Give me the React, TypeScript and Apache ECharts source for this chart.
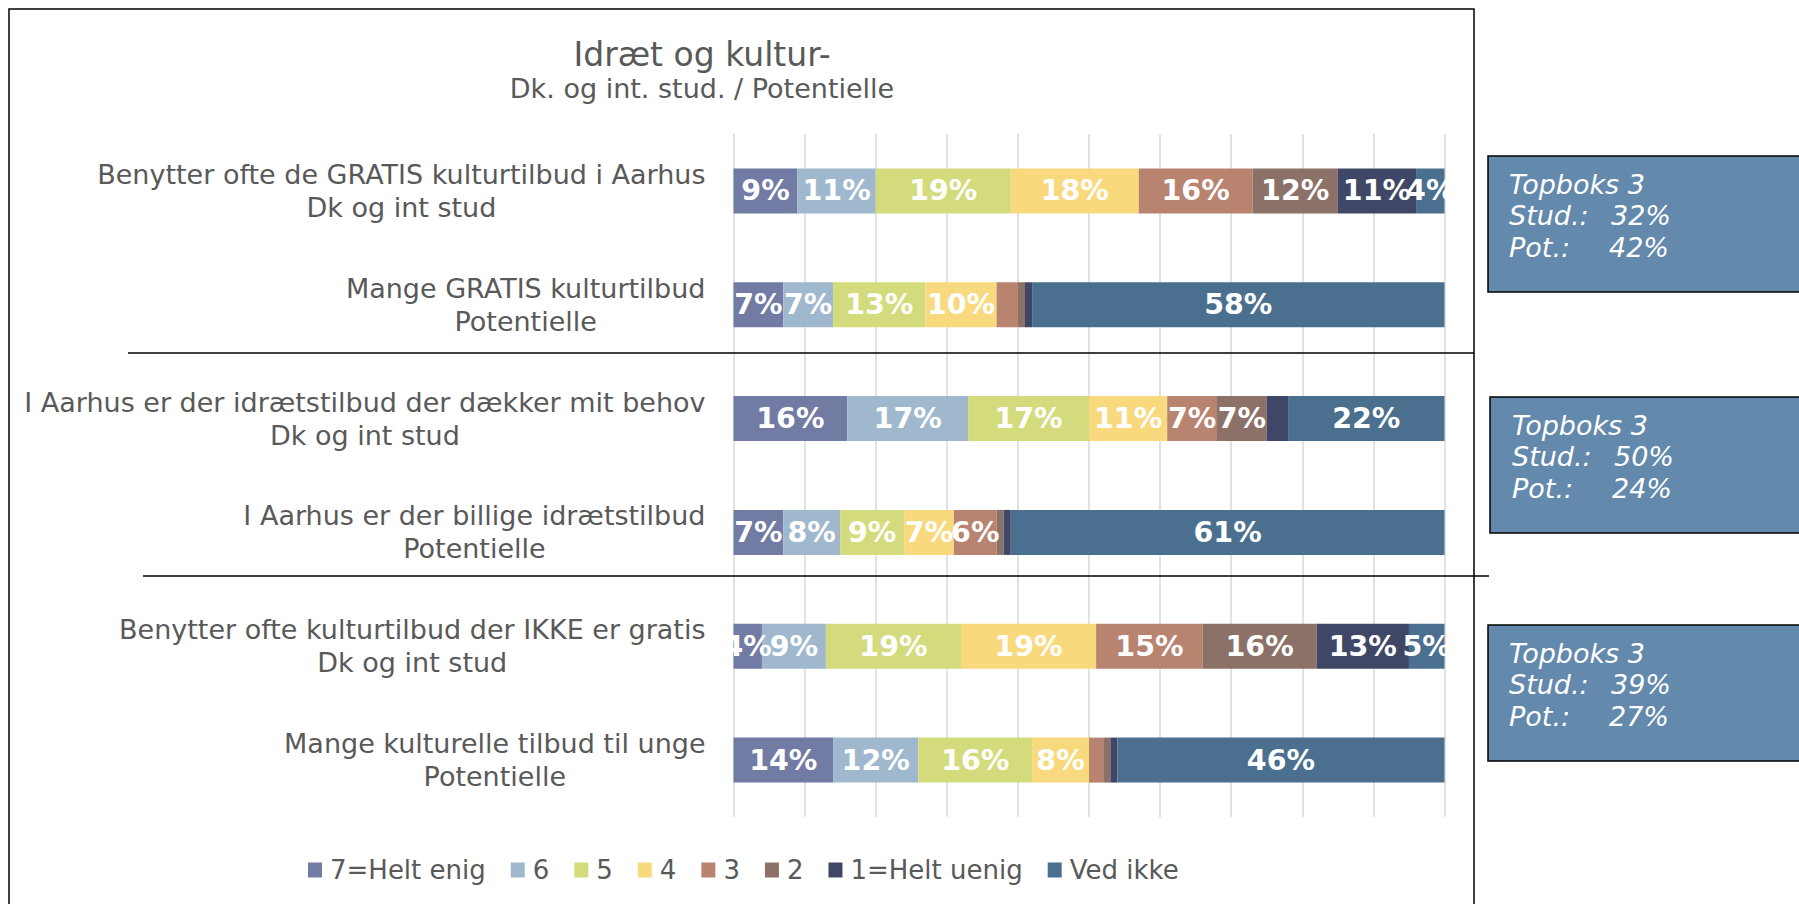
import React, { useEffect, useRef } from "react";
import * as echarts from "echarts";

// Survey statements (two-line labels: statement / respondent group)
const categories = [
  "Benytter ofte de GRATIS kulturtilbud i Aarhus\nDk og int stud",
  "Mange GRATIS kulturtilbud\nPotentielle",
  "I Aarhus er der idrætstilbud der dækker mit behov\nDk og int stud",
  "I Aarhus er der billige idrætstilbud\nPotentielle",
  "Benytter ofte kulturtilbud der IKKE er gratis\nDk og int stud",
  "Mange kulturelle tilbud til unge\nPotentielle",
];

const seriesNames = ["7=Helt enig", "6", "5", "4", "3", "2", "1=Helt uenig", "Ved ikke"];

// Share of answers (%) per statement, one array per answer option
const enig7 = [9, 7, 16, 7, 4, 14];
const svar6 = [11, 7, 17, 8, 9, 12];
const svar5 = [19, 13, 17, 9, 19, 16];
const svar4 = [18, 10, 11, 7, 19, 8];
const svar3 = [16, 3, 7, 6, 15, 2];
const svar2 = [12, 1, 7, 1, 16, 1];
const uenig1 = [11, 1, 3, 1, 13, 1];
const vedIkke = [4, 58, 22, 61, 5, 46];

const seriesData = [enig7, svar6, svar5, svar4, svar3, svar2, uenig1, vedIkke];
const seriesColors = ["#717ba3", "#a0b8ce", "#d4db7d", "#f9d97d", "#b8836f", "#8c7168", "#404766", "#4a6f8f"];

// "Topboks 3" summary boxes
const topTitle = "Topboks 3";
const topStud = ["32%", "50%", "39%"];
const topPot = ["42%", "24%", "27%"];
const topBoxY = [156, 397, 625];

const FONT = "'DejaVu Sans', Verdana, sans-serif";
const GREY = "#595959";

export default function App() {
  const ref = useRef<HTMLDivElement>(null);

  useEffect(() => {
    document.body.style.margin = "0";
    if (!ref.current) return;
    const chart = echarts.init(ref.current, null, { renderer: "svg" });

    const series = seriesNames.map((name, i) => ({
      name,
      type: "bar",
      stack: "total",
      barWidth: 45,
      data: seriesData[i],
      itemStyle: { color: seriesColors[i] },
      label: {
        show: true,
        position: "inside",
        color: "#ffffff",
        fontFamily: FONT,
        fontWeight: "bold",
        fontSize: 28.5,
        formatter: (p: any) => (p.value >= 4 ? p.value + "%" : ""),
      },
    }));

    const boxes: any[] = [];
    topBoxY.forEach((y, i) => {
      const shift = i === 1 ? 3 : 0;
      boxes.push({
        type: "rect",
        shape: { x: 1488 + (i === 1 ? 2 : 0), y, width: 400, height: 136 },
        style: { fill: "#6389ad", stroke: "#000000", lineWidth: 1.5 },
      });
      const tx = 1509 + shift;
      const lines = [
        { t: topTitle, x: tx, dy: 28 },
        { t: "Stud.:", x: tx, dy: 59 },
        { t: topStud[i], x: tx + 102, dy: 59 },
        { t: "Pot.:", x: tx, dy: 91 },
        { t: topPot[i], x: tx + 100, dy: 91 },
      ];
      lines.forEach((l) =>
        boxes.push({
          type: "text",
          x: l.x,
          y: y + l.dy,
          style: {
            text: l.t,
            fill: "#ffffff",
            font: `italic 27px ${FONT}`,
            textAlign: "left",
            textVerticalAlign: "middle",
          },
        })
      );
    });

    chart.setOption({
      animation: false,
      backgroundColor: "#ffffff",
      title: {
        text: "Idræt og kultur-",
        subtext: "Dk. og int. stud. / Potentielle",
        left: 697,
        top: 30,
        textAlign: "center",
        itemGap: 0,
        textStyle: { fontFamily: FONT, fontSize: 33, fontWeight: "normal", color: GREY, lineHeight: 38 },
        subtextStyle: { fontFamily: FONT, fontSize: 27, color: GREY, lineHeight: 30 },
      },
      legend: {
        data: seriesNames,
        left: 303,
        top: 852,
        icon: "rect",
        itemWidth: 14,
        itemHeight: 15,
        itemGap: 25,
        textStyle: { fontFamily: FONT, fontSize: 26, color: GREY, padding: [0, 0, 0, 3] },
      },
      grid: { left: 733.5, right: 354.5, top: 134, bottom: 87, containLabel: false },
      xAxis: {
        type: "value",
        min: 0,
        max: 100,
        interval: 10,
        axisLabel: { show: false },
        axisLine: { show: false },
        axisTick: { show: false },
        splitLine: { show: true, lineStyle: { color: "#d9d9d9", width: 1.5 } },
      },
      yAxis: {
        type: "category",
        inverse: true,
        data: categories,
        axisLine: { show: false },
        axisTick: { show: false },
        axisLabel: {
          interval: 0,
          margin: 28,
          color: GREY,
          fontFamily: FONT,
          fontSize: 27,
          lineHeight: 33,
          formatter: (v: string) =>
            v
              .split("\n")
              .map((l) => `{c|${l}}`)
              .join("\n"),
          rich: {
            c: { align: "center", fontFamily: FONT, fontSize: 27, lineHeight: 33, color: GREY },
          },
        },
      },
      series,
      graphic: [
        {
          type: "rect",
          shape: { x: 9, y: 9, width: 1465, height: 1000 },
          style: { fill: "none", stroke: "#000000", lineWidth: 1.5 },
          z: 10,
        },
        {
          type: "line",
          shape: { x1: 128, y1: 353, x2: 1474, y2: 353 },
          style: { stroke: "#000000", lineWidth: 1.5 },
          z: 10,
        },
        {
          type: "line",
          shape: { x1: 143, y1: 576, x2: 1489, y2: 576 },
          style: { stroke: "#000000", lineWidth: 1.5 },
          z: 10,
        },
        ...boxes,
      ],
    });

    return () => chart.dispose();
  }, []);

  return <div ref={ref} style={{ width: 1799, height: 904 }} />;
}
